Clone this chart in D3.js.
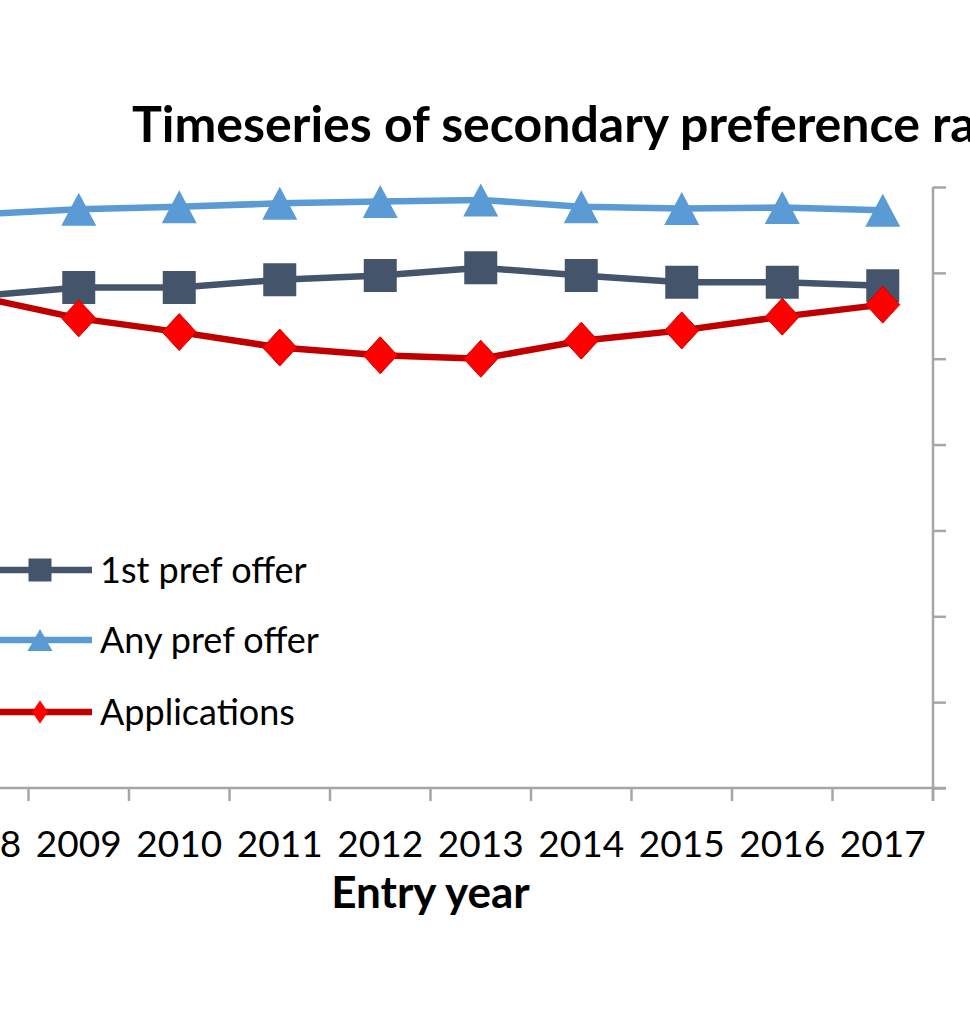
<!DOCTYPE html>
<html lang="en">
<head>
  <meta charset="UTF-8">
  <title>Timeseries of secondary preference rates</title>
  <script src="https://d3js.org/d3.v7.min.js"></script>
  <style>
    body { margin: 0; background: #ffffff; }
    text { font-family: Lato, "Noto Sans", sans-serif; fill: #000000; }
    .axis path, .axis line { stroke: #a6a6a6; stroke-width: 2.5px; }
  </style>
</head>
<body>
  <div id="chart"></div>
  <script>
    const years = [2008, 2009, 2010, 2011, 2012, 2013, 2014, 2015, 2016, 2017];
    const firstPref = [57.3, 58.3, 58.3, 59.2, 59.7, 60.6, 59.7, 58.9, 58.9, 58.5];
    const anyPref = [66.8, 67.4, 67.7, 68.1, 68.3, 68.5, 67.7, 67.5, 67.6, 67.3];
    const applications = [57.2, 54.7, 53.1, 51.3, 50.4, 50.0, 52.1, 53.3, 54.9, 56.3];
    const yTicks = [0, 10, 20, 30, 40, 50, 60, 70];

    const series = [
      { name: "1st pref offer", values: firstPref, line: "#44546a", fill: "#44546a", shape: "square" },
      { name: "Any pref offer", values: anyPref, line: "#5b9bd5", fill: "#5b9bd5", shape: "triangle" },
      { name: "Applications", values: applications, line: "#c00000", fill: "#ff0000", shape: "diamond" }
    ];

    const width = 970, height = 1024;
    // plot area runs off the left edge, like the cropped original
    const plot = { left: -72, right: 933, top: 187, bottom: 788 };

    const svg = d3.select("#chart").append("svg")
      .attr("width", width)
      .attr("height", height);

    const x = d3.scaleBand().domain(years).range([plot.left, plot.right]);
    const y = d3.scaleLinear().domain([0, 70]).range([plot.bottom, plot.top]);

    // x axis
    const xAxis = svg.append("g")
      .attr("class", "axis")
      .attr("transform", `translate(0,${plot.bottom})`)
      .call(d3.axisBottom(x).tickSize(0).tickSizeOuter(0));
    xAxis.select(".domain").remove();
    xAxis.append("line")
      .attr("x1", plot.left).attr("x2", plot.right + 13);
    xAxis.selectAll(".sep")
      .data(years)
      .enter().append("line")
      .attr("class", "sep")
      .attr("x1", d => x(d) + x.bandwidth()).attr("x2", d => x(d) + x.bandwidth())
      .attr("y1", 0).attr("y2", 13);
    xAxis.selectAll(".tick text")
      .style("font-size", "37px")
      .attr("dy", null)
      .attr("y", 69);

    // right axis, labels fall outside the picture
    const yAxis = svg.append("g")
      .attr("class", "axis")
      .attr("transform", `translate(${plot.right},0)`)
      .call(d3.axisRight(y).tickValues(yTicks).tickSize(13).tickSizeOuter(0).tickFormat(""));
    yAxis.select(".domain").remove();
    yAxis.append("line")
      .attr("y1", plot.top).attr("y2", plot.bottom + 13);

    const line = d3.line()
      .x((d, i) => x(years[i]) + x.bandwidth() / 2)
      .y(d => y(d));

    // Excel-like marker shapes, centred on their bounding box
    function diamond(w, h) {
      return { draw(ctx) {
        ctx.moveTo(0, -h / 2); ctx.lineTo(w / 2, 0); ctx.lineTo(0, h / 2); ctx.lineTo(-w / 2, 0); ctx.closePath();
      } };
    }
    function triangle(w, h) {
      return { draw(ctx) {
        ctx.moveTo(0, -h / 2); ctx.lineTo(w / 2, h / 2); ctx.lineTo(-w / 2, h / 2); ctx.closePath();
      } };
    }
    function square(s) {
      return { draw(ctx) { ctx.rect(-s / 2, -s / 2, s, s); } };
    }

    const symbolFor = {
      square: d3.symbol().type(square(33)),
      triangle: d3.symbol().type(triangle(35, 33)),
      diamond: d3.symbol().type(diamond(34, 37))
    };

    series.forEach(s => {
      const g = svg.append("g");
      g.append("path")
        .datum(s.values)
        .attr("fill", "none")
        .attr("stroke", s.line)
        .attr("stroke-width", 6.5)
        .attr("stroke-linejoin", "round")
        .attr("d", line);
      g.selectAll(".marker")
        .data(s.values)
        .enter().append("path")
        .attr("class", "marker")
        .attr("transform", (d, i) => `translate(${x(years[i]) + x.bandwidth() / 2},${y(d)})`)
        .attr("d", symbolFor[s.shape])
        .attr("fill", s.fill)
        .attr("stroke", s.shape === "diamond" ? "#d00000" : "none")
        .attr("stroke-width", 1);
    });

    // legend
    const legendSymbol = {
      square: d3.symbol().type(square(23)),
      triangle: d3.symbol().type(triangle(25, 22)),
      diamond: d3.symbol().type(diamond(16, 23))
    };
    const legend = svg.append("g");
    const rowY = [570, 640, 712];
    series.forEach((s, i) => {
      const row = legend.append("g").attr("transform", `translate(0,${rowY[i]})`);
      row.append("line")
        .attr("x1", -12).attr("x2", 92)
        .attr("stroke", s.line).attr("stroke-width", 6.5);
      row.append("path")
        .attr("transform", "translate(40,0)")
        .attr("d", legendSymbol[s.shape])
        .attr("fill", s.fill);
      row.append("text")
        .attr("x", 100)
        .attr("y", 13)
        .style("font-size", "36px")
        .text(s.name);
    });

    // titles
    svg.append("text")
      .attr("x", 132)
      .attr("y", 142)
      .style("font-size", "50px")
      .style("font-weight", "bold")
      .text("Timeseries of secondary preference rates");

    svg.append("text")
      .attr("x", (plot.left + plot.right) / 2)
      .attr("y", 908)
      .attr("text-anchor", "middle")
      .style("font-size", "44px")
      .style("font-weight", "bold")
      .text("Entry year");
  </script>
</body>
</html>
